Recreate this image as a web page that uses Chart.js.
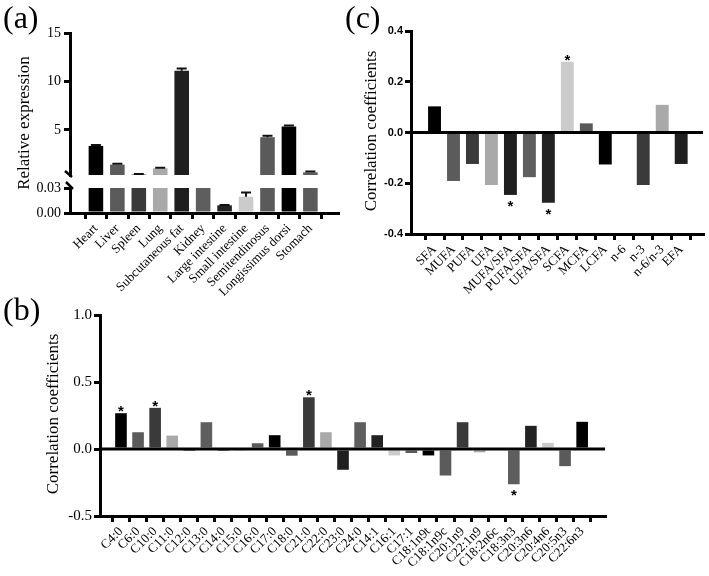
<!DOCTYPE html>
<html>
<head>
<meta charset="utf-8">
<script src="https://cdn.jsdelivr.net/npm/chart.js@4.4.0/dist/chart.umd.min.js"></script>
<style>
body { margin: 0; background: #fff; }
#wrap { position: relative; width: 709px; height: 576px; overflow: hidden; background: #fff; }
canvas { position: absolute; }
.tag { position: absolute; font-family: 'Liberation Serif', 'Times New Roman', serif; font-size: 32px; line-height: 1; color: #000; }
</style>
</head>
<body>
<div id="wrap">
  <canvas id="chartA" width="345" height="300" style="left:0;top:0"></canvas>
  <canvas id="chartB" width="620" height="286" style="left:0;top:290px"></canvas>
  <canvas id="chartC" width="364" height="300" style="left:345px;top:0"></canvas>
  <div class="tag" style="left:3px;top:1px">(a)</div>
  <div class="tag" style="left:3px;top:293px">(b)</div>
  <div class="tag" style="left:345px;top:1px">(c)</div>
</div>
<script>
// (a) relative expression by tissue
const aLabels = ['Heart', 'Liver', 'Spleen', 'Lung', 'Subcutaneous fat', 'Kidney', 'Large intestine',
  'Small intestine', 'Semitendinosus', 'Longissimus dorsi', 'Stomach'];
const aValues = [3.35, 1.42, 0.40, 1.04, 11.1, 0.20, 0.0092, 0.0196, 4.25, 5.35, 0.62];
const aErrors = [0.10, 0.10, 0.05, 0.06, 0.25, 0, 0.0004, 0.005, 0.15, 0.10, 0.08];
const aUpperTicks = [5, 10, 15];
const aLowerTicks = [0, 0.03];

// (b) correlation with individual fatty acids
const bLabels = ['C4:0', 'C6:0', 'C10:0', 'C11:0', 'C12:0', 'C13:0', 'C14:0', 'C15:0', 'C16:0', 'C17:0',
  'C18:0', 'C21:0', 'C22:0', 'C23:0', 'C24:0', 'C14:1', 'C16:1', 'C17:1', 'C18:1n9t', 'C18:1n9c',
  'C20:1n9', 'C22:1n9', 'C18:2n6c', 'C18:3n3', 'C20:3n6', 'C20:4n6', 'C20:5n3', 'C22:6n3'];
const bValues = [0.267, 0.125, 0.307, 0.10, -0.015, 0.20, -0.015, -0.005, 0.043, 0.103,
  -0.05, 0.386, 0.125, -0.155, 0.20, 0.103, -0.048, -0.03, -0.048, -0.198,
  0.20, -0.025, 0, -0.263, 0.173, 0.046, -0.128, 0.203];
const bStars = ['C4:0', 'C10:0', 'C21:0', 'C18:3n3'];
const bTicks = [-0.5, 0, 0.5, 1];

// (c) correlation with fatty acid groups
const cLabels = ['SFA', 'MUFA', 'PUFA', 'UFA', 'MUFA/SFA', 'PUFA/SFA', 'UFA/SFA', 'SCFA', 'MCFA', 'LCFA',
  'n-6', 'n-3', 'n-6/n-3', 'EFA'];
const cValues = [0.103, -0.191, -0.124, -0.207, -0.246, -0.176, -0.277, 0.279, 0.036, -0.126,
  0, -0.207, 0.109, -0.124];
const cStars = ['MUFA/SFA', 'UFA/SFA', 'SCFA'];
const cTicks = [-0.4, -0.2, 0, 0.2, 0.4];

const grays = ['#000000', '#5b5b5b', '#3a3a3a', '#a9a9a9', '#1f1f1f', '#5e5e5e', '#222222', '#cbcbcb', '#5a5a5a'];
const serif = "'Liberation Serif', 'Times New Roman', serif";
const sans = "'Liberation Sans', Arial, sans-serif";

Chart.defaults.animation = false;
Chart.defaults.color = '#000';

function fixWidth(w) { return s => { s.width = w; }; }
function fixHeight(h) { return s => { s.height = h; }; }
function setTicks(list) { return s => { s.ticks = list.map(v => ({ value: v })); }; }

function xAxis(labels, min, max, h, fontSize) {
  return {
    type: 'linear', min: min, max: max,
    afterFit: fixHeight(h),
    border: { display: true, width: 3, color: '#000' },
    grid: { drawOnChartArea: false, drawTicks: true, tickLength: 6, lineWidth: 3, tickWidth: 3, tickColor: '#000' },
    ticks: {
      stepSize: 1, autoSkip: false, includeBounds: false, maxRotation: 45, minRotation: 45, padding: 2,
      font: { family: serif, size: fontSize },
      callback: v => labels[v] ?? ''
    }
  };
}

function yGrid() {
  return { drawOnChartArea: false, drawTicks: true, tickLength: 6, lineWidth: 3, tickWidth: 3, tickColor: '#000' };
}

function drawTitle(ctx, text, x, y) {
  ctx.save();
  ctx.translate(x, y);
  ctx.rotate(-Math.PI / 2);
  ctx.font = '17px ' + serif;
  ctx.fillStyle = '#000';
  ctx.textAlign = 'center';
  ctx.textBaseline = 'middle';
  ctx.fillText(text, 0, 0);
  ctx.restore();
}

// ---------- (a) ----------
const aUpMin = 0.35, aLowMax = 0.03;
const aColors = aLabels.map((_, i) => grays[i % grays.length]);

const aPlugin = {
  id: 'aExtras',
  afterDatasetsDraw(chart) {
    const ctx = chart.ctx;
    const up = chart.scales.y, low = chart.scales.yLow;
    ctx.save();
    ctx.strokeStyle = '#111';
    ctx.lineWidth = 2;
    [[0, up], [1, low]].forEach(([di, sc]) => {
      chart.getDatasetMeta(di).data.forEach((bar, i) => {
        const v = aValues[i], e = aErrors[i];
        if (!e || v < sc.min || v > sc.max) return;
        const y1 = sc.getPixelForValue(v);
        const y2 = sc.getPixelForValue(Math.min(v + e, sc.max));
        ctx.beginPath();
        ctx.moveTo(bar.x, y1);
        ctx.lineTo(bar.x, y2);
        ctx.moveTo(bar.x - 5, y2);
        ctx.lineTo(bar.x + 5, y2);
        ctx.stroke();
      });
    });
    // axis break marks
    const ax = up.right;
    ctx.strokeStyle = '#000';
    ctx.lineWidth = 2.5;
    ctx.beginPath();
    ctx.moveTo(ax - 5, up.bottom - 4);
    ctx.lineTo(ax + 2, up.bottom + 2);
    ctx.moveTo(ax - 4, low.top - 6);
    ctx.lineTo(ax + 3, low.top + 1);
    ctx.stroke();
    ctx.restore();
    drawTitle(ctx, 'Relative expression', 25, 123);
  }
};

new Chart(document.getElementById('chartA'), {
  type: 'bar',
  data: {
    datasets: [
      {
        data: aValues.map((v, i) => ({ x: i, y: v >= aUpMin ? v : null })),
        yAxisID: 'y', backgroundColor: aColors
      },
      {
        data: aValues.map((v, i) => ({ x: i, y: Math.min(v, aLowMax) })),
        yAxisID: 'yLow', backgroundColor: aColors
      }
    ]
  },
  options: {
    responsive: false,
    layout: { padding: { top: 33, right: 7, left: 0, bottom: 0 } },
    datasets: { bar: { grouped: false, barPercentage: 0.68, categoryPercentage: 1 } },
    plugins: { legend: { display: false }, tooltip: { enabled: false } },
    scales: {
      x: xAxis(aLabels, -0.64, 10.72, 87, 13),
      y: {
        type: 'linear', min: aUpMin, max: 15, stack: 'a', stackWeight: 142, weight: 3,
        afterFit: fixWidth(70), afterBuildTicks: setTicks(aUpperTicks),
        border: { display: true, width: 3, color: '#000' },
        grid: yGrid(),
        ticks: { autoSkip: false, padding: 3, font: { family: serif, size: 14 }, callback: v => String(v) }
      },
      yGap: {
        type: 'linear', stack: 'a', stackWeight: 13, weight: 2,
        afterFit: fixWidth(70),
        border: { display: false }, grid: { display: false }, ticks: { display: false }
      },
      yLow: {
        type: 'linear', min: 0, max: aLowMax, stack: 'a', stackWeight: 25, weight: 1,
        afterFit: fixWidth(70), afterBuildTicks: setTicks(aLowerTicks),
        border: { display: true, width: 3, color: '#000' },
        grid: yGrid(),
        ticks: { autoSkip: false, padding: 3, font: { family: serif, size: 14 }, callback: v => v.toFixed(2) }
      }
    }
  },
  plugins: [aPlugin]
});

// ---------- (b) and (c) ----------
function corrPlugin(labels, values, stars, title, tx, ty) {
  return {
    id: 'corrExtras',
    afterDatasetsDraw(chart) {
      const { ctx, chartArea } = chart;
      const y = chart.scales.y;
      const y0 = y.getPixelForValue(0);
      ctx.save();
      ctx.strokeStyle = '#000';
      ctx.lineWidth = 3;
      ctx.beginPath();
      ctx.moveTo(chartArea.left, y0);
      ctx.lineTo(chartArea.right, y0);
      ctx.stroke();
      const meta = chart.getDatasetMeta(0);
      ctx.fillStyle = '#000';
      ctx.font = 'bold 15px ' + sans;
      ctx.textAlign = 'center';
      ctx.textBaseline = 'alphabetic';
      labels.forEach((lab, i) => {
        if (!stars.includes(lab)) return;
        const bar = meta.data[i];
        const cy = values[i] >= 0 ? bar.y - 5.5 : bar.y + 7.5;
        ctx.fillText('*', bar.x, cy + 8.5);
      });
      ctx.restore();
      drawTitle(ctx, title, tx, ty);
    }
  };
}

function corrChart(id, labels, values, stars, ticks, opt) {
  new Chart(document.getElementById(id), {
    type: 'bar',
    data: {
      datasets: [{
        data: values.map((v, i) => ({ x: i, y: v })),
        backgroundColor: labels.map((_, i) => grays[i % grays.length])
      }]
    },
    options: {
      responsive: false,
      layout: { padding: { top: opt.top, right: opt.right, left: 0, bottom: 0 } },
      datasets: { bar: { barPercentage: 0.68, categoryPercentage: 1 } },
      plugins: { legend: { display: false }, tooltip: { enabled: false } },
      scales: {
        x: xAxis(labels, opt.xmin, opt.xmax, opt.xh, opt.xfont),
        y: {
          type: 'linear', min: ticks[0], max: ticks[ticks.length - 1],
          afterFit: fixWidth(opt.yw), afterBuildTicks: setTicks(ticks),
          border: { display: true, width: 3, color: '#000' },
          grid: yGrid(),
          ticks: { autoSkip: false, padding: 2, font: opt.yfont, callback: v => v.toFixed(1) }
        }
      }
    },
    plugins: [corrPlugin(labels, values, stars, 'Correlation coefficients', opt.tx, opt.ty)]
  });
}

corrChart('chartB', bLabels, bValues, bStars, bTicks, {
  top: 25, right: 15, xmin: -0.70, xmax: 27.81, xh: 60, xfont: 13, yw: 100,
  yfont: { family: serif, size: 15 }, tx: 54, ty: 124
});

corrChart('chartC', cLabels, cValues, cStars, cTicks, {
  top: 31, right: 6, xmin: -0.69, xmax: 13.6, xh: 66, xfont: 13, yw: 66,
  yfont: { family: sans, size: 11, weight: 'bold' }, tx: 27, ty: 131
});
</script>
</body>
</html>
